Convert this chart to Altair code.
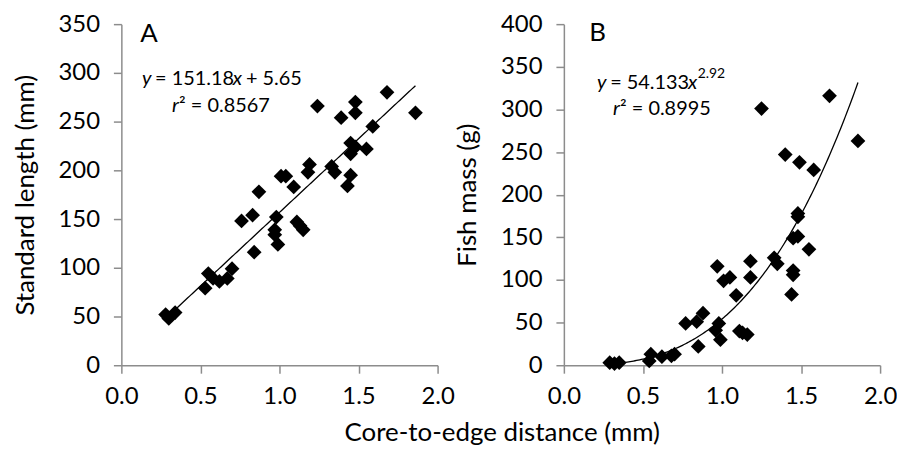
import altair as alt
import pandas as pd

# ---------------- data ----------------
# Panel A: core-to-edge distance (mm) vs standard length (mm)
dist_a = [0.28, 0.30, 0.34, 0.53, 0.55, 0.58, 0.62, 0.67, 0.70, 0.76,
          0.83, 0.84, 0.87, 0.97, 0.97, 0.98, 0.99, 1.01, 1.04, 1.09,
          1.11, 1.13, 1.15, 1.18, 1.19, 1.24, 1.33, 1.35, 1.39, 1.43,
          1.45, 1.45, 1.45, 1.48, 1.48, 1.48, 1.55, 1.59, 1.68, 1.86]
length_a = [52, 48, 54, 79, 94, 89, 86, 89, 99, 148,
            154, 116, 178, 139, 134, 152, 124, 194, 194, 183,
            147, 143, 139, 198, 206, 266, 204, 198, 254, 184,
            195, 228, 217, 224, 270, 259, 222, 245, 280, 259]

# Panel B: core-to-edge distance (mm) vs fish mass (g)
dist_b = [0.29, 0.32, 0.35, 0.54, 0.55, 0.62, 0.68, 0.70, 0.77, 0.84,
          0.85, 0.88, 0.96, 0.97, 0.98, 0.99, 1.01, 1.05, 1.09, 1.11,
          1.13, 1.16, 1.18, 1.18, 1.25, 1.33, 1.35, 1.40, 1.44, 1.45,
          1.45, 1.45, 1.48, 1.48, 1.48, 1.49, 1.55, 1.58, 1.68, 1.86]
mass_b = [3, 2, 3, 5, 13, 10, 11, 13, 49, 51,
          22, 61, 41, 116, 49, 30, 99, 103, 82, 40,
          38, 36, 122, 103, 301, 126, 119, 247, 83, 106,
          111, 149, 178, 174, 151, 238, 136, 229, 316, 263]

# Trend line coefficients (as printed on the chart)
lin_slope, lin_intercept = 151.18, 5.65
pow_coef, pow_exp = 54.133, 2.92

x_ticks = [0, 0.5, 1.0, 1.5, 2.0]
ya_ticks = [0, 50, 100, 150, 200, 250, 300, 350]
yb_ticks = [0, 50, 100, 150, 200, 250, 300, 350, 400]

# ---------------- styling ----------------
FONT = "Lato"
GRAY = "#8c8c8c"
W, H = 318, 343
LABEL_SIZE = 24
TITLE_SIZE = 26

# approximate glyph advance widths (em) for placing rich-text pieces
EM = {c: 0.58 for c in "0123456789=+"}
EM.update({".": 0.24, " ": 0.19, "²": 0.38})
EM_IT = {"y": 0.47, "x": 0.47, "r": 0.36}


def text_width(s, size, italic=False):
    tab = EM_IT if italic else EM
    return sum(tab.get(c, 0.55) for c in s) * size


def x_enc():
    return alt.X("x:Q", scale=alt.Scale(domain=[0, 2], nice=False, padding=0, zero=False),
                 axis=alt.Axis(values=x_ticks, format=".1f", title=None, grid=False,
                               domainColor=GRAY, tickColor=GRAY, domainWidth=1.5,
                               tickWidth=1.5, tickSize=8, labelFontSize=LABEL_SIZE,
                               labelFont=FONT, labelColor="black", labelPadding=11,
                               labelFlush=False, labelOverlap=False, offset=0))


def y_enc(domain, ticks, title):
    return alt.Y("y:Q", scale=alt.Scale(domain=domain, nice=False, padding=0),
                 axis=alt.Axis(values=ticks, format="d", title=title, grid=False,
                               domainColor=GRAY, tickColor=GRAY, domainWidth=1.5,
                               tickWidth=1.5, tickSize=8, labelFontSize=LABEL_SIZE,
                               labelFont=FONT, labelColor="black", labelPadding=14,
                               labelFlush=False, labelOverlap=False,
                               titleFont=FONT, titleFontSize=TITLE_SIZE,
                               titleFontWeight="normal", titleColor="black",
                               titlePadding=20, offset=0))


def rich_text(x, y, pieces, domain, ticks, title):
    """pieces: list of (text, italic, size, dy, gap_before_em)"""
    layers = []
    dx = 0.0
    base = pieces[0][2]
    for txt, italic, size, dy, gap in pieces:
        dx += gap * base
        df = pd.DataFrame({"x": [x], "y": [y], "t": [txt]})
        layers.append(
            alt.Chart(df).mark_text(align="left", baseline="middle", font=FONT,
                                    fontSize=size, fontStyle="italic" if italic else "normal",
                                    color="black", dx=dx, dy=dy)
            .encode(x=x_enc(), y=y_enc(domain, ticks, title), text="t:N")
        )
        dx += text_width(txt, size, italic)
    return layers


def panel(dist, vals, domain, ticks, title, letter, letter_pos, curve_expr,
          eq1, eq1_pos, eq2, eq2_pos):
    pts = pd.DataFrame({"x": dist, "y": vals})
    points = alt.Chart(pts).mark_point(shape="diamond", filled=True, size=220,
                                       color="black", opacity=1).encode(
        x=x_enc(), y=y_enc(domain, ticks, title))
    fit = (alt.Chart(alt.sequence(min(dist), max(dist) + 0.005, 0.01, as_="x"))
           .transform_calculate(y=curve_expr)
           .mark_line(color="black", strokeWidth=1.3)
           .encode(x=x_enc(), y=y_enc(domain, ticks, title)))
    lab = pd.DataFrame({"x": [letter_pos[0]], "y": [letter_pos[1]], "t": [letter]})
    letter_mark = alt.Chart(lab).mark_text(align="left", baseline="middle", font=FONT,
                                           fontSize=26, color="black").encode(
        x=x_enc(), y=y_enc(domain, ticks, title), text="t:N")
    layers = [points, fit, letter_mark]
    layers += rich_text(eq1_pos[0], eq1_pos[1], eq1, domain, ticks, title)
    layers += rich_text(eq2_pos[0], eq2_pos[1], eq2, domain, ticks, title)
    return alt.layer(*layers).properties(width=W, height=H)


panel_a = panel(
    dist_a, length_a, [0, 350], ya_ticks, "Standard length (mm)", "A", (0.12, 340),
    f"{lin_slope}*datum.x + {lin_intercept}",
    [("y", True, 20, 0, 0), ("= 151.18", False, 20, 0, 0.19),
     ("x", True, 20, 0, 0), ("+ 5.65", False, 20, 0, 0.19)], (0.13, 294),
    [("r", True, 20, 0, 0), ("² = 0.8567", False, 20, 0, 0)], (0.32, 266),
)

panel_b = panel(
    dist_b, mass_b, [0, 400], yb_ticks, "Fish mass (g)", "B", (0.16, 389),
    f"{pow_coef}*pow(datum.x, {pow_exp})",
    [("y", True, 20, 0, 0), ("= 54.133", False, 20, 0, 0.19),
     ("x", True, 20, 0, 0), ("2.92", False, 14, -9, 0.02)], (0.21, 331),
    [("r", True, 20, 0, 0), ("² = 0.8995", False, 20, 0, 0)], (0.31, 301),
)

chart = (
    alt.hconcat(panel_a, panel_b, spacing=0)
    .properties(
        title=alt.TitleParams("Core-to-edge distance (mm)", orient="bottom", anchor="middle",
                              font=FONT, fontSize=TITLE_SIZE, fontWeight="normal",
                              color="black", offset=12, dx=48),
        padding={"left": 4, "right": 0, "top": 3, "bottom": 0},
    )
    .configure_view(stroke=None)
)

chart.save("out.html", embed_options={"renderer": "svg", "actions": False})
